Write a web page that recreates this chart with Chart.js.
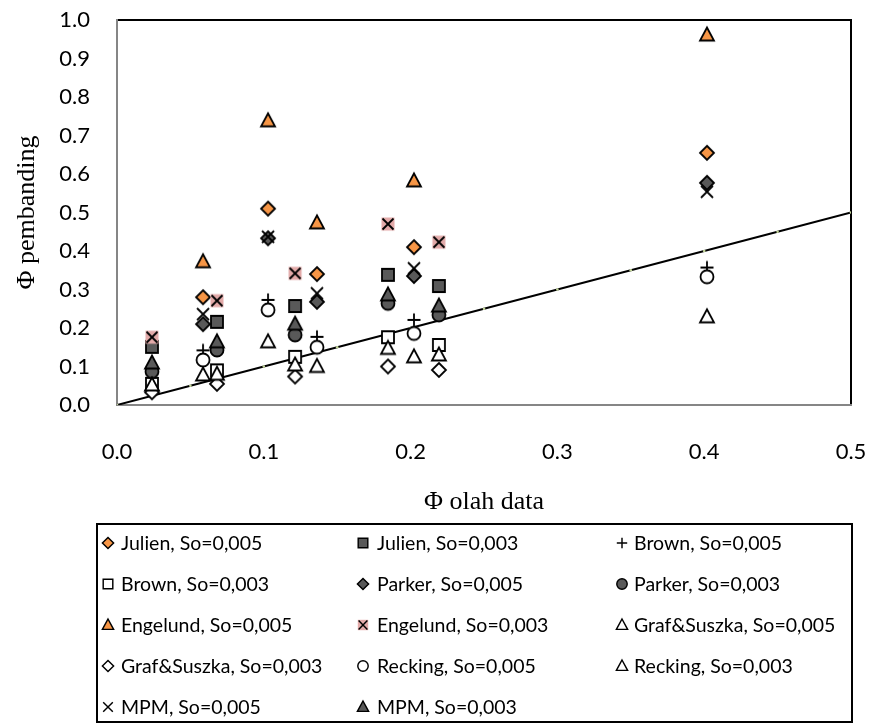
<!DOCTYPE html>
<html>
<head>
<meta charset="utf-8">
<script src="https://cdn.jsdelivr.net/npm/chart.js@4/dist/chart.umd.min.js"></script>
<style>
  body { margin: 0; background: #fff; }
  #wrap { position: relative; width: 871px; height: 725px; }
  #legend { position: absolute; left: 96px; top: 523px; width: 757px; height: 200px;
            border: 2px solid #000; box-sizing: border-box; font-family: Lato; font-size: 19.5px; color: #000; }
  #legend canvas, #legend span { position: absolute; }
  #legend span { line-height: 24px; white-space: nowrap; }
</style>
</head>
<body>
<div id="wrap">
  <canvas id="chart" width="871" height="725"></canvas>
  <div id="legend"></div>
</div>
<script>
// series names, same order as the legend (read row by row)
const names = [
  'Julien, So=0,005', 'Julien, So=0,003', 'Brown, So=0,005',
  'Brown, So=0,003', 'Parker, So=0,005', 'Parker, So=0,003',
  'Engelund, So=0,005', 'Engelund, So=0,003', 'Graf&Suszka, So=0,005',
  'Graf&Suszka, So=0,003', 'Recking, So=0,005', 'Recking, So=0,003',
  'MPM, So=0,005', 'MPM, So=0,003'
];

// Φ olah data
const xSo005 = [0.0586, 0.1029, 0.1362, 0.2023, 0.4019];
const xSo003 = [0.0238, 0.0681, 0.1213, 0.1846, 0.2193];

// Φ pembanding
const julien005 = [0.28, 0.51, 0.34, 0.41, 0.655];
const julien003 = [0.151, 0.216, 0.257, 0.338, 0.309];
const brown005 = [0.142, 0.273, 0.177, 0.221, 0.357];
const brown003 = [0.055, 0.09, 0.125, 0.176, 0.156];
const parker005 = [0.21, 0.433, 0.268, 0.335, 0.577];
const parker003 = [0.087, 0.143, 0.182, 0.264, 0.234];
const engelund005 = [0.372, 0.738, 0.473, 0.582, 0.961];
const engelund003 = [0.176, 0.271, 0.342, 0.47, 0.423];
const graf005 = [0.078, 0.164, 0.1, 0.125, 0.229];
const graf003 = [0.033, 0.055, 0.074, 0.1, 0.091];
const recking005 = [0.117, 0.247, 0.15, 0.186, 0.333];
const recking003 = [0.052, 0.08, 0.104, 0.147, 0.13];
const mpm005 = [0.236, 0.437, 0.29, 0.355, 0.554];
const mpm003 = [0.109, 0.164, 0.21, 0.286, 0.257];

// garis 1:1
const lineX = [0, 0.05, 0.1, 0.15, 0.2, 0.25, 0.3, 0.35, 0.4, 0.45, 0.5];
const lineY = [0, 0.05, 0.1, 0.15, 0.2, 0.25, 0.3, 0.35, 0.4, 0.45, 0.5];

const xTicks = [0, 0.1, 0.2, 0.3, 0.4, 0.5];
const yTicks = [0, 0.1, 0.2, 0.3, 0.4, 0.5, 0.6, 0.7, 0.8, 0.9, 1.0];

const seriesY = [julien005, julien003, brown005, brown003, parker005, parker003,
  engelund005, engelund003, graf005, graf003, recking005, recking003, mpm005, mpm003];

const ORANGE = '#F79646';
const DARK = '#595959';
const PINK = '#E3AAA9';
const markers = [
  ['diamond', ORANGE], ['square', DARK], ['plus', null],
  ['square', '#fff'], ['diamond', DARK], ['circle', DARK],
  ['triangle', ORANGE], ['xbox', PINK], ['triangle', '#fff'],
  ['diamond', '#fff'], ['circle', '#fff'], ['triangle', '#fff'],
  ['cross', null], ['triangle', DARK]
];

// excel-like markers drawn on a small canvas, used as pointStyle
const makeMarker = (shape, fill, s) => {
  const size = Math.round(20 * s);
  const c = document.createElement('canvas');
  c.width = size; c.height = size;
  const g = c.getContext('2d');
  const m = size / 2;
  g.lineWidth = Math.max(1.3, 1.8 * s);
  g.strokeStyle = '#000';
  g.fillStyle = fill || '#fff';
  g.lineJoin = 'miter';
  g.beginPath();
  if (shape === 'diamond') {
    const r = 7 * s;
    g.moveTo(m, m - r); g.lineTo(m + r, m); g.lineTo(m, m + r); g.lineTo(m - r, m); g.closePath();
    g.fill(); g.stroke();
  } else if (shape === 'square') {
    const h = 6 * s;
    g.rect(m - h, m - h, 2 * h, 2 * h);
    g.fill(); g.stroke();
  } else if (shape === 'triangle') {
    g.moveTo(m, m - 7.5 * s); g.lineTo(m + 7 * s, m + 5.5 * s); g.lineTo(m - 7 * s, m + 5.5 * s); g.closePath();
    g.fill(); g.stroke();
  } else if (shape === 'circle') {
    g.arc(m, m, 6.5 * s, 0, Math.PI * 2);
    g.fill(); g.stroke();
  } else if (shape === 'plus') {
    const r = 6.5 * s;
    g.moveTo(m - r, m); g.lineTo(m + r, m); g.moveTo(m, m - r); g.lineTo(m, m + r);
    g.stroke();
  } else if (shape === 'cross') {
    const r = 6 * s;
    g.moveTo(m - r, m - r); g.lineTo(m + r, m + r); g.moveTo(m + r, m - r); g.lineTo(m - r, m + r);
    g.stroke();
  } else if (shape === 'xbox') {
    const h = 6.5 * s;
    g.fillRect(m - h, m - h, 2 * h, 2 * h);
    const r = 5.5 * s;
    g.moveTo(m - r, m - r); g.lineTo(m + r, m + r); g.moveTo(m + r, m - r); g.lineTo(m - r, m + r);
    g.stroke();
  }
  return c;
};

const datasets = seriesY.map((ys, i) => {
  const xs = i % 2 === 0 ? xSo005 : xSo003;
  return {
    label: names[i],
    data: ys.map((y, j) => ({ x: xs[j], y: y })),
    pointStyle: makeMarker(markers[i][0], markers[i][1], 1),
    pointRadius: 7,
    showLine: false,
    order: 14 - i,
  };
});

datasets.push({
  label: '1:1',
  data: lineX.map((x, j) => ({ x: x, y: lineY[j] })),
  showLine: true,
  borderColor: '#000',
  borderWidth: 2,
  pointRadius: 1.3,
  pointBorderWidth: 0,
  pointBackgroundColor: '#C4D79B',
  order: 20,
});

// plot frame: gray axes on left/bottom, black on top/right
const frame = {
  id: 'frame',
  beforeDatasetsDraw(chart) {
    const { ctx, chartArea: a } = chart;
    ctx.save();
    ctx.lineWidth = 2;
    ctx.strokeStyle = '#000';
    ctx.beginPath();
    ctx.moveTo(a.left, a.top); ctx.lineTo(a.right, a.top); ctx.lineTo(a.right, a.bottom);
    ctx.stroke();
    ctx.strokeStyle = '#868686';
    ctx.beginPath();
    ctx.moveTo(a.left, a.top - 1); ctx.lineTo(a.left, a.bottom); ctx.lineTo(a.right + 1, a.bottom);
    ctx.stroke();
    ctx.restore();
  }
};

const tickFont = { family: 'Lato', size: 22 };
const titleFont = { family: 'Liberation Serif', size: 26 };

new Chart(document.querySelector('#chart'), {
  type: 'scatter',
  data: { datasets: datasets },
  options: {
    responsive: false,
    animation: false,
    devicePixelRatio: 1,
    layout: { padding: { left: 0, top: 20, right: 20, bottom: 207 } },
    plugins: { legend: { display: false }, tooltip: { enabled: false } },
    scales: {
      x: {
        type: 'linear', min: 0, max: 0.5,
        afterBuildTicks: (s) => { s.ticks = xTicks.map((v) => ({ value: v })); },
        afterFit: (s) => { s.height = 113; },
        ticks: { font: tickFont, color: '#000', padding: 0, maxRotation: 0, callback: (v) => v.toFixed(1) },
        grid: { display: false, drawTicks: true, tickLength: 34 },
        border: { display: false },
        title: { display: true, text: 'Φ olah data', font: titleFont, color: '#000', padding: { top: 0, bottom: 0 } },
      },
      y: {
        type: 'linear', min: 0, max: 1,
        afterBuildTicks: (s) => { s.ticks = yTicks.map((v) => ({ value: v })); },
        afterFit: (s) => { s.width = 117; },
        ticks: { font: tickFont, color: '#000', padding: 0, callback: (v) => v.toFixed(1) },
        grid: { display: false, drawTicks: true, tickLength: 27 },
        border: { display: false },
        title: { display: true, text: 'Φ pembanding', font: titleFont, color: '#000', padding: { top: 12, bottom: 0 } },
      },
    },
  },
  plugins: [frame],
});

// legend box, 3 columns
const legendDiv = document.querySelector('#legend');
const colMarkerX = [108, 363, 622];
const colTextX = [121, 377, 634];
const rowY = [543, 584, 625, 666, 707];
const boxLeft = 98, boxTop = 525;
names.forEach((name, i) => {
  const col = i % 3, row = Math.floor(i / 3);
  const mk = makeMarker(markers[i][0], markers[i][1], 0.8);
  mk.style.left = (colMarkerX[col] - boxLeft - mk.width / 2) + 'px';
  mk.style.top = (rowY[row] - boxTop - mk.height / 2) + 'px';
  legendDiv.appendChild(mk);
  const span = document.createElement('span');
  span.textContent = name;
  span.style.left = (colTextX[col] - boxLeft) + 'px';
  span.style.top = (rowY[row] - boxTop - 12) + 'px';
  legendDiv.appendChild(span);
});
</script>
</body>
</html>
